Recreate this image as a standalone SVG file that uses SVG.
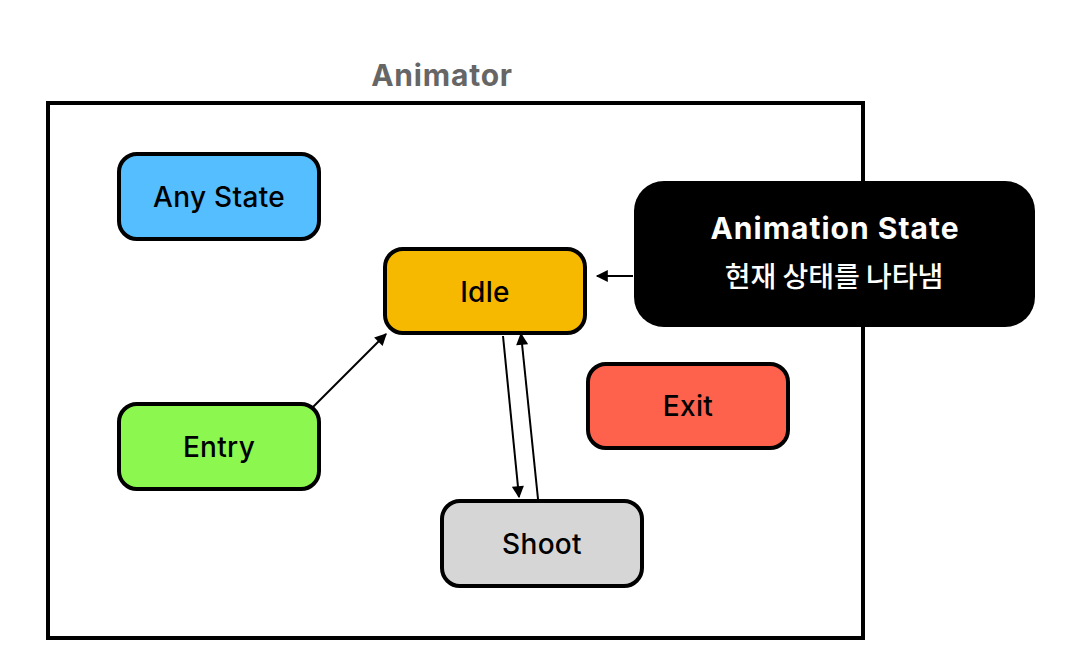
<svg xmlns="http://www.w3.org/2000/svg" width="1074" height="665" viewBox="0 0 1074 665">
<style>
.node{stroke:#000;stroke-width:4}
.lbl{font-family:Inter,"Liberation Sans",Arial,sans-serif;font-size:28px;font-weight:500;letter-spacing:0.3px;fill:#000;text-anchor:middle;dominant-baseline:central}
.conn{stroke:#000;stroke-width:2;fill:none;marker-end:url(#ah)}
</style>
<defs>
<marker id="ah" viewBox="0 0 10 10" refX="9" refY="5" markerWidth="7" markerHeight="6" orient="auto" markerUnits="strokeWidth">
<path d="M0,0 L10,5 L0,10 z" fill="#000"/>
</marker>
</defs>
<rect width="1074" height="665" fill="#fff"/>
<g id="animator">
<rect x="48" y="103" width="815" height="535" fill="none" stroke="#000" stroke-width="4"/>
<text x="442" y="75" font-family="Inter,Liberation Sans,Arial,sans-serif" font-size="30" font-weight="bold" letter-spacing="0.8" fill="#666" text-anchor="middle" dominant-baseline="central">Animator</text>
</g>
<g id="any-state">
<rect class="node" x="119" y="154" width="200" height="85" rx="18" fill="#55BEFF"/>
<text class="lbl" x="219" y="197">Any State</text>
</g>
<g id="idle">
<rect class="node" x="385" y="249" width="200" height="84" rx="18" fill="#F6B900"/>
<text class="lbl" x="485" y="292">Idle</text>
</g>
<g id="entry">
<rect class="node" x="119" y="404" width="200" height="85" rx="18" fill="#8CF84F"/>
<text class="lbl" x="219" y="447">Entry</text>
</g>
<g id="exit">
<rect class="node" x="588" y="364" width="200" height="84" rx="18" fill="#FF624C"/>
<text class="lbl" x="688" y="406">Exit</text>
</g>
<g id="shoot">
<rect class="node" x="442" y="501" width="200" height="85" rx="18" fill="#D6D6D6"/>
<text class="lbl" x="542" y="544">Shoot</text>
</g>
<g id="animation-state">
<rect x="634" y="181" width="401" height="146" rx="30" fill="#000"/>
<text x="835" y="228" font-family="Inter,Liberation Sans,Arial,sans-serif" font-size="30" font-weight="bold" letter-spacing="1" fill="#fff" text-anchor="middle" dominant-baseline="central">Animation State</text>
<text x="834" y="275" font-family="'Noto Sans CJK KR',sans-serif" font-size="28" font-weight="500" fill="#fff" text-anchor="middle" dominant-baseline="central">현재 상태를 나타냄</text>
</g>
<g id="connectors">
<line class="conn" x1="633" y1="276" x2="597" y2="276"/>
<line class="conn" x1="313" y1="407" x2="386" y2="334"/>
<line class="conn" x1="503" y1="336" x2="519" y2="497"/>
<line class="conn" x1="538" y1="499" x2="521" y2="334"/>
</g>
</svg>
